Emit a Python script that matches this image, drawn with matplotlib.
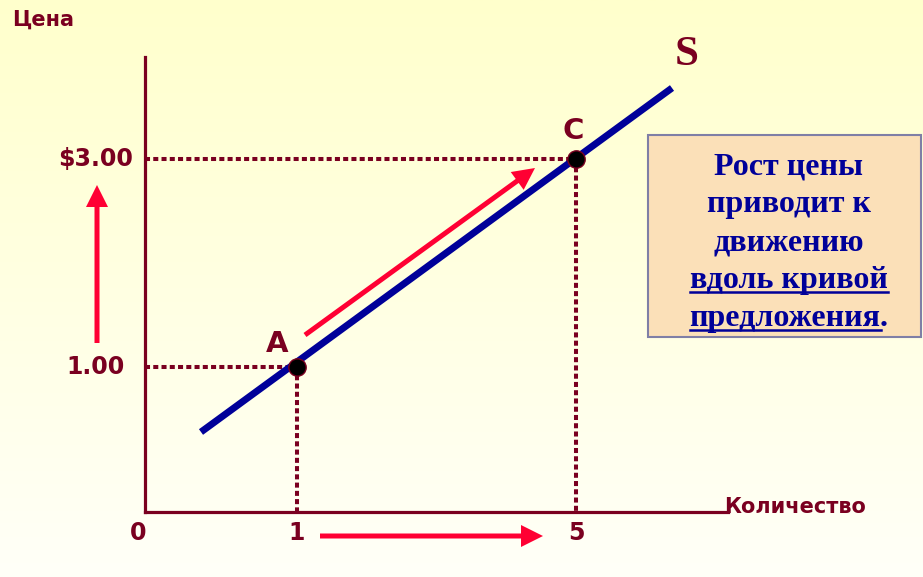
import numpy as np
import matplotlib.pyplot as plt

# схема: начало координат в углу осей, единицы условные
qty_labels = ['0', '1', '5']
qty_pos = [0, 152, 431]
price_labels = ['1.00', '$3.00']
price_pos = [145, 353]

point_names = ['A', 'C']
point_q = [152, 431]
point_p = [145, 353]

supply_q = [56, 527]
supply_p = [80, 424]

box_lines = ['Рост цены', 'приводит к', 'движению', 'вдоль кривой', 'предложения.']
box_underline = [False, False, False, True, True]

dark_red = '#7a0020'
navy = '#000099'
red = '#ff0033'

fig = plt.figure(figsize=(9.23, 5.77), dpi=100)
ax = fig.add_axes([0, 0, 1, 1])
ax.set_xlim(-145, 778)
ax.set_ylim(-65, 512)
ax.axis('off')

# фон - градиент
grad = np.linspace(0, 1, 256).reshape(-1, 1)
top = np.array([255, 255, 204]) / 255
bot = np.array([255, 255, 248]) / 255
img = top + (bot - top) * grad[..., None]
ax.imshow(img, extent=[-145, 778, -65, 512], origin='upper', aspect='auto', zorder=0)

# оси
ax.plot([0, 0], [0, 455], color=dark_red, lw=2.3, zorder=2)
ax.plot([0, 583], [0, 0], color=dark_red, lw=2.3, zorder=2)

# пунктирные линии к точкам
dots = (0, (1.25, 0.8))
for q, p in zip(point_q, point_p):
    ax.plot([0, q], [p, p], color=dark_red, lw=2.9, ls=dots, dash_capstyle='butt', zorder=3)
    ax.plot([q, q], [p, 0], color=dark_red, lw=2.9, ls=dots, dash_capstyle='butt', zorder=3)

# кривая предложения
ax.plot(supply_q, supply_p, color=navy, lw=5, solid_capstyle='butt', zorder=4)
ax.text(542, 457, 'S', color=dark_red, fontsize=31, fontweight='bold',
        family='Liberation Serif', ha='center', va='center')

ax.plot(point_q, point_p, 'o', ms=12.5, mfc='black', mec=dark_red, mew=1, zorder=6)
ax.text(132, 168, point_names[0], color=dark_red, fontsize=21, fontweight='bold', ha='center', va='center')
ax.text(428, 381, point_names[1], color=dark_red, fontsize=21, fontweight='bold', ha='center', va='center')

# подписи осей
for lab, q in zip(qty_labels, qty_pos):
    ax.text(q - (7 if lab == '0' else 0), -21, lab, color=dark_red, fontsize=17,
            fontweight='bold', ha='center', va='center')
ax.text(-20, price_pos[0], price_labels[0], color=dark_red, fontsize=17, fontweight='bold', ha='right', va='center')
ax.text(-12, price_pos[1], price_labels[1], color=dark_red, fontsize=17, fontweight='bold', ha='right', va='center')
ax.text(-133, 492, 'Цена', color=dark_red, fontsize=15, fontweight='bold', ha='left', va='center')
ax.text(579, 5, 'Количество', color=dark_red, fontsize=15, fontweight='bold', ha='left', va='center')

# красные стрелки
ax.arrow(-48, 169, 0, 158, width=5, head_width=22, head_length=22,
         length_includes_head=True, color=red, lw=0, zorder=5)
ax.arrow(160, 177, 230, 167, width=5, head_width=22, head_length=22,
         length_includes_head=True, color=red, lw=0, zorder=5)
ax.arrow(175, -24, 223, 0, width=5, head_width=22, head_length=22,
         length_includes_head=True, color=red, lw=0, zorder=5)

# поясняющий блок
box = plt.Rectangle((503, 175), 273, 202, facecolor='#fbe0b8', edgecolor='#7f7fa6', lw=1.5, zorder=5)
ax.add_patch(box)
fig.canvas.draw()
r = fig.canvas.get_renderer()
for i, (line, ul) in enumerate(zip(box_lines, box_underline)):
    y = 338 - 38 * i
    t = ax.text(644, y, line, color=navy, fontsize=23, fontweight='bold',
                family='Liberation Serif', ha='center', va='baseline', zorder=6)
    if ul:
        bb = t.get_window_extent(r)
        x0 = bb.x0 - 145
        x1 = bb.x1 - 145
        if line.endswith('.'):
            d = ax.text(0, 0, '.', fontsize=23, fontweight='bold', family='Liberation Serif')
            x1 -= d.get_window_extent(r).width
            d.remove()
        ax.plot([x0, x1], [y - 4, y - 4], color=navy, lw=1.8, zorder=6)

fig.savefig('out.png', dpi=100)
